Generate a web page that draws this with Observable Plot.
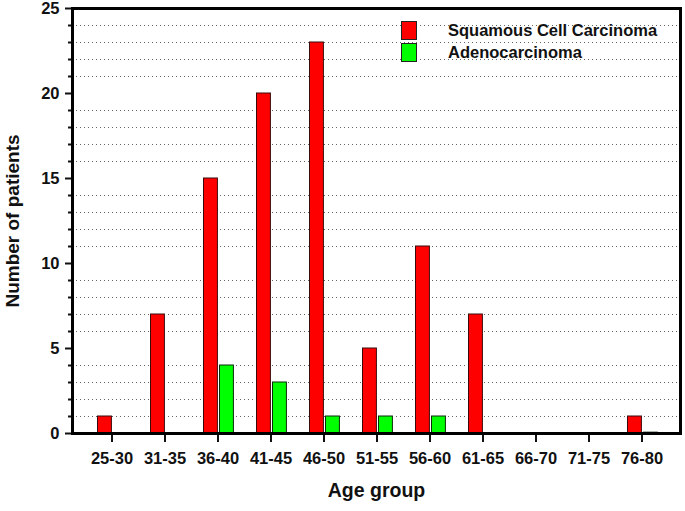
<!DOCTYPE html>
<html>
<head>
<meta charset="utf-8">
<script src="https://cdn.jsdelivr.net/npm/d3@7"></script>
<script src="https://cdn.jsdelivr.net/npm/@observablehq/plot@0.6"></script>
<style>
  body { margin: 0; background: #fff; }
  #wrap { position: relative; width: 685px; height: 511px; font-family: "Liberation Sans", Arial, sans-serif; }
  #legend { position: absolute; left: 401px; top: 19px; font-weight: bold; font-size: 16.5px; color: #111; }
  .item { display: flex; align-items: center; height: 22px; }
  .sw { width: 14px; height: 17px; border: 1px solid #222; margin-right: 31px; }
</style>
</head>
<body>
<div id="wrap"></div>
<script>
const ageGroups = ["25-30","31-35","36-40","41-45","46-50","51-55","56-60","61-65","66-70","71-75","76-80"];
const squamous = [1, 7, 15, 20, 23, 5, 11, 7, 0, 0, 1];
const adeno = [0, 0, 4, 3, 1, 1, 1, 0, 0, 0, 0.05];
const seriesNames = ["Squamous Cell Carcinoma", "Adenocarcinoma"];
const seriesColors = ["#ff0000", "#00ff00"];
const yMajorTicks = [0, 5, 10, 15, 20, 25];
const yMinorTicks = [1,2,3,4,6,7,8,9,11,12,13,14,16,17,18,19,21,22,23,24];

const sccData = ageGroups.map((a, i) => ({age: a, value: squamous[i]}));
const adenoData = ageGroups.map((a, i) => ({age: a, value: adeno[i]}));

const chart = Plot.plot({
  width: 685,
  height: 511,
  marginLeft: 72,
  marginRight: 5,
  marginTop: 8,
  marginBottom: 78,
  style: {fontFamily: '"Liberation Sans", Arial, sans-serif', color: "#111", background: "#fff"},
  x: {domain: ageGroups, paddingInner: 0, paddingOuter: 0.23, axis: null},
  y: {domain: [0, 25], axis: null},
  marks: [
    Plot.ruleY(yMinorTicks, {stroke: "#666", strokeWidth: 1, strokeDasharray: "1,3"}),
    Plot.barY(sccData, {x: "age", y: "value", fill: seriesColors[0], stroke: "#3a0a0a", strokeWidth: 1, insetLeft: 12.5, insetRight: 26.6}),
    Plot.barY(adenoData, {x: "age", y: "value", fill: seriesColors[1], stroke: "#0a2a0a", strokeWidth: 1, insetLeft: 28.5, insetRight: 10.6}),
    Plot.axisY({ticks: yMinorTicks, tickSize: 4, tickFormat: () => "", strokeWidth: 2, label: null}),
    Plot.axisY({ticks: yMajorTicks, tickSize: 7, tickPadding: 6, strokeWidth: 2, fontSize: 16.5, fontWeight: "bold", label: null}),
    Plot.axisX({tickSize: 9, tickPadding: 10, strokeWidth: 2, fontSize: 16.5, fontWeight: "bold", label: null}),
    Plot.frame({stroke: "#000", strokeWidth: 3}),
    Plot.text(["Age group"], {frameAnchor: "bottom", dy: 63, fontSize: 19.5, fontWeight: "bold", fill: "#111"}),
    Plot.text(["Number of patients"], {frameAnchor: "left", textAnchor: "middle", dx: -60, rotate: -90, fontSize: 19, fontWeight: "bold", fill: "#111"})
  ]
});

const wrap = document.getElementById("wrap");
wrap.appendChild(chart);
const legend = document.createElement("div");
legend.id = "legend";
seriesNames.forEach((name, i) => {
  const item = document.createElement("div");
  item.className = "item";
  const sw = document.createElement("span");
  sw.className = "sw";
  sw.style.background = seriesColors[i];
  const label = document.createElement("span");
  label.textContent = name;
  item.appendChild(sw);
  item.appendChild(label);
  legend.appendChild(item);
});
wrap.appendChild(legend);
</script>
</body>
</html>
